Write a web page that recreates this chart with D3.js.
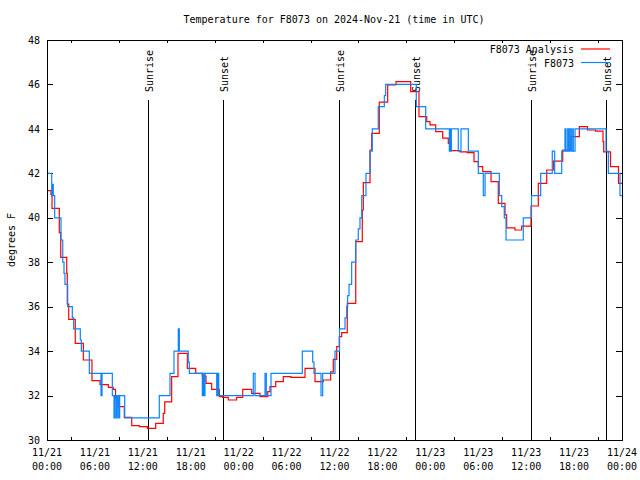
<!DOCTYPE html>
<html><head><meta charset="utf-8">
<script src="https://cdn.jsdelivr.net/npm/d3@7"></script>
<style>
body{margin:0;background:#fff}
svg{display:block}
text{font-family:"DejaVu Sans Mono",monospace;font-size:10px;fill:#000}
</style>
</head><body><svg id="c" width="640" height="480"></svg>
<script>
const titleText = "Temperature for F8073 on 2024-Nov-21 (time in UTC)";
const yLabel = "degrees F";
const seriesNames = ["F8073 Analysis", "F8073"];
const startUTC = Date.UTC(2024, 10, 21, 0, 0);
const endHours = 72;

// observed (F8073), hours since 2024-11-21 00:00 UTC
const obsHours = [0,0.59,0.71,0.79,0.96,1.75,1.97,2.13,2.25,2.59,3.17,3.34,4.17,4.30,5.30,6.76,6.89,8.18,8.39,8.51,8.68,8.80,8.98,9.10,9.73,14.06,15.40,15.90,16.44,16.57,17.69,17.82,19.45,19.57,19.66,19.78,21.25,21.37,21.50,25.83,26.05,27.30,27.46,28.05,31.97,33.27,33.43,34.31,34.52,36.06,36.63,37.32,37.53,37.65,37.82,38.15,38.66,38.98,39.19,39.41,39.94,40.45,40.73,41.48,42.24,42.41,46.24,47.42,50.38,50.46,50.55,50.63,51.50,51.84,52.76,54.01,54.63,54.85,56.64,56.94,57.26,57.48,59.64,60.67,61.82,63.27,63.57,64.45,64.86,64.99,65.20,65.33,65.49,65.65,65.83,65.90,66.12,70.00,70.29,71.75,72];
const obsTemps = [42,41,41.5,41,40,39,38,37.5,37,36,35.5,35,34.5,34,33,32,33,32,31,32,31,32,31,32,31,32,33,34,35,34,33.5,33,32,33,32,33,32,33,32,33,32,33,32,33,34,33.5,33,32,33,34,35,35.5,36,36.5,37,38,39,39.5,40,41,42,43,44,45,45.5,46,45,44,43,44,43,44,43,44,43,42,41,42,41,40.5,40,39,40,41,42,43,42,43,44,43,44,43,44,43,44,43,44,43,42,41,41];

// analysis (F8073 Analysis)
const anaHours = [0,0.50,0.63,1.54,1.72,2.47,2.54,2.72,3.54,4.55,5.63,6.64,7.68,8.30,8.58,8.89,9.68,10.61,11.56,12.56,13.61,14.56,14.74,15.61,16.40,17.57,18.62,19.45,19.91,20.62,21.58,22.00,22.70,23.75,24.51,25.63,26.67,27.64,27.92,28.64,29.59,30.55,32.31,33.56,34.60,35.52,35.85,36.28,36.60,36.90,37.60,38.66,39.48,39.61,40.45,40.66,41.61,42.66,43.70,45.54,46.58,47.55,47.96,48.67,49.55,50.25,50.59,51.72,52.63,53.47,54.01,54.56,55.60,56.51,57.35,57.56,58.60,59.44,60.61,61.52,62.57,63.40,64.58,65.58,66.66,67.68,68.68,69.62,69.71,70.56,71.56,72];
const anaTemps = [41.22,41.04,40.42,39.33,38.22,37.5,36.12,35.43,34.35,33.6,32.67,32.49,32.37,32.28,31.9,31.5,31.02,30.65,30.6,30.52,30.75,31.2,31.72,32.85,33.9,33.22,33.0,32.88,32.55,32.28,31.95,31.92,31.8,31.92,32.28,32.1,31.95,32.18,32.4,32.63,32.85,32.82,33.22,32.63,32.7,33.07,33.63,34.2,34.65,34.83,36.15,38.93,40.35,41.58,43.05,43.8,45.2,45.98,46.13,45.68,44.55,44.33,44.18,43.88,43.58,43.35,43.02,42.97,42.93,42.53,42.3,42.08,41.63,40.65,40.13,39.55,39.45,39.62,40.53,41.55,42.15,42.55,43.05,43.65,44.1,43.95,43.9,43.43,42.97,42.3,41.55,41.55];

const sunEventHours = [12.64, 22.03, 36.62, 46.02, 60.6, 70.05];
const sunEventLabels = ["Sunrise", "Sunset", "Sunrise", "Sunset", "Sunrise", "Sunset"];
const yTicks = [30,32,34,36,38,40,42,44,46,48];
const majorStepHours = 6;
const minorStepHours = 3;

const colors = {analysis: "#ff0000", obs: "#0a84ff"};
const toDate = h => new Date(startUTC + h * 3600000);

const svg = d3.select("#c");
const L = 47, R = 622, T = 40, B = 440;
const x = d3.scaleUtc().domain([toDate(0), toDate(endHours)]).range([L, R]);
const y = d3.scaleLinear().domain([30, 48]).range([B, T]);

const majorTicks = d3.range(0, endHours + 0.001, majorStepHours).map(toDate);
const minorTicks = d3.range(0, endHours + 0.001, minorStepHours).filter(h => h % majorStepHours !== 0).map(toDate);
const fmtDay = d3.utcFormat("%m/%d"), fmtTime = d3.utcFormat("%H:%M");

// title
svg.append("text").attr("x", 334).attr("y", 23).attr("text-anchor", "middle").text(titleText);
// y label
svg.append("text").attr("transform", "translate(15,240) rotate(-90)").attr("text-anchor", "middle").text(yLabel);

// axes
const gB = svg.append("g").attr("transform", `translate(0,${B})`)
  .call(d3.axisBottom(x).tickValues(majorTicks).tickSize(-6).tickFormat(""));
gB.call(d3.axisBottom(x).tickValues(minorTicks).tickSize(-3).tickFormat(""));
const gT = svg.append("g").attr("transform", `translate(0,${T})`);
gT.call(d3.axisTop(x).tickValues(majorTicks).tickSize(-6).tickFormat(""));
gT.call(d3.axisTop(x).tickValues(minorTicks).tickSize(-3).tickFormat(""));
const gL = svg.append("g").attr("transform", `translate(${L},0)`)
  .call(d3.axisLeft(y).tickValues(yTicks).tickSize(-6).tickPadding(7).tickFormat(d3.format("d")));
const gR = svg.append("g").attr("transform", `translate(${R},0)`)
  .call(d3.axisRight(y).tickValues(yTicks).tickSize(-6).tickFormat(""));
svg.selectAll(".domain").remove();
svg.selectAll(".tick line").attr("stroke", "#000").attr("shape-rendering", "crispEdges");
gL.selectAll(".tick text").attr("font-size", 10).attr("font-family", "DejaVu Sans Mono").attr("dy", "0.32em").attr("fill","#000");

// two-line x tick labels
const xl = svg.append("g");
majorTicks.forEach(d => {
  const t = xl.append("text").attr("text-anchor", "middle");
  t.append("tspan").attr("x", x(d)).attr("y", 456).text(fmtDay(d));
  t.append("tspan").attr("x", x(d)).attr("y", 470).text(fmtTime(d));
});

// sun event lines
sunEventHours.forEach((h, i) => {
  const xx = Math.round(x(toDate(h))) + 0.5;
  svg.append("line").attr("x1", xx).attr("x2", xx).attr("y1", 100).attr("y2", B)
    .attr("stroke", "#000").attr("stroke-width", 1);
  svg.append("text").attr("transform", `translate(${xx + 4},92) rotate(-90)`).text(sunEventLabels[i]);
});

// series
const lineGen = d3.line().curve(d3.curveStepAfter).x(d => x(d[0])).y(d => y(d[1]));
const anaData = anaHours.map((h, i) => [toDate(h), anaTemps[i]]);
const obsData = obsHours.map((h, i) => [toDate(h), obsTemps[i]]);
svg.append("path").datum(anaData).attr("d", lineGen).attr("fill", "none").attr("stroke", colors.analysis).attr("stroke-width", 1.2);
svg.append("path").datum(obsData).attr("d", lineGen).attr("fill", "none").attr("stroke", colors.obs).attr("stroke-width", 1.2);

// frame
svg.append("rect").attr("x", L + 0.5).attr("y", T + 0.5).attr("width", R - L).attr("height", B - T)
  .attr("fill", "none").attr("stroke", "#000").attr("stroke-width", 1);

// legend
const legend = [{name: seriesNames[0], c: colors.analysis, y: 49}, {name: seriesNames[1], c: colors.obs, y: 62.5}];
legend.forEach(l => {
  svg.append("text").attr("x", 574).attr("y", l.y + 4).attr("text-anchor", "end").text(l.name);
  svg.append("line").attr("x1", 581).attr("x2", 610).attr("y1", l.y).attr("y2", l.y).attr("stroke", l.c).attr("stroke-width", 1.2);
});
</script></body></html>
